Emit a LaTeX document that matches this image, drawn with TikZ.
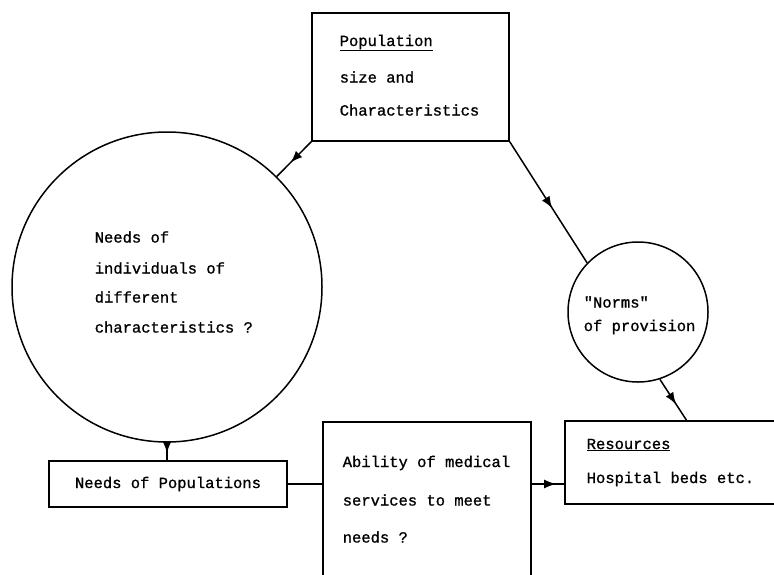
\documentclass[tikz,border=0pt]{standalone}
\usepackage{fontspec}
\setmonofont[FakeBold=1]{Liberation Mono}
\usetikzlibrary{arrows.meta,decorations.markings}
\begin{document}
\begin{tikzpicture}[x=1pt,y=-1pt,
  line width=1.5pt,
  every node/.style={font=\ttfamily\fontsize{15.5}{18}\selectfont},
  boxshape/.style={draw,rectangle,inner sep=0pt},
  circshape/.style={draw,circle,inner sep=0pt},
  lbl/.style={anchor=west,inner sep=0pt},
  midarrow/.style={postaction={decorate},decoration={markings,
      mark=at position #1 with {\arrow{Latex[length=12pt,width=9pt]}}}}]
\useasboundingbox (0,0) rectangle (774,574);
\clip (0,0) rectangle (774,574);

% shapes
\node[boxshape,minimum width=197,minimum height=128] (pop) at (410.5,77) {};
\node[circshape,minimum size=310] (needc) at (167,287) {};
\node[circshape,minimum size=140] (norm) at (638,312) {};
\node[boxshape,minimum width=238,minimum height=46] (needp) at (168,484) {};
\node[boxshape,minimum width=208,minimum height=198] (abil) at (427,521) {};
\node[boxshape,minimum width=235,minimum height=83] (res) at (682.5,462.5) {};
\coordinate (restop) at (687,421);

% texts
\node[lbl] (t1) at (339,43) {\underline{Population}};
\node[lbl] (t2) at (339,77) {size and};
\node[lbl] (t3) at (339,110) {Characteristics};

\node[lbl] (n1) at (94,237) {Needs of};
\node[lbl] (n2) at (94,268) {individuals of};
\node[lbl] (n3) at (94,297) {different};
\node[lbl] (n4) at (94,327) {characteristics ?};

\node[lbl] (m1) at (583,302) {"Norms"};
\node[lbl] (m2) at (583,327) {of provision};

\node (np) at (168,484) {Needs of Populations};

\node[lbl] (a1) at (342,463) {Ability of medical};
\node[lbl] (a2) at (342,500) {services to meet};
\node[lbl] (a3) at (342,537) {needs ?};

\node[lbl] (r1) at (586,445) {\underline{Resources}};
\node[lbl] (r2) at (586,479) {Hospital beds etc.};

% connectors
\draw[midarrow=0.6] (pop.south west) -- (needc);
\draw[midarrow=0.55] (pop.south east) -- (norm.136);
\draw[midarrow=0.6] (norm.288) -- (restop);
\draw[midarrow=0.6] (needc.south) -- (needc.south |- needp.north);
\draw (needp.east) -- (abil.west |- needp.east);
\draw[midarrow=0.75] (abil.east |- needp.east) -- (res.west |- needp.east);
\end{tikzpicture}
\end{document}
